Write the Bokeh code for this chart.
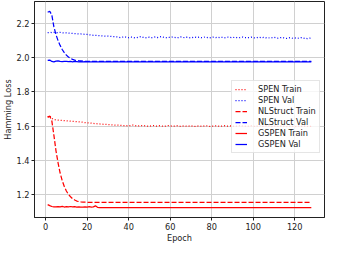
from bokeh.plotting import figure
from bokeh.models import Range1d, Legend, LegendItem, PrintfTickFormatter
from bokeh.embed import file_html
from bokeh.resources import INLINE

epochs = list(range(1, 129))

spen_train = [
    1.652, 1.660, 1.645, 1.638, 1.636, 1.635, 1.634, 1.633, 1.632, 1.631, 1.630, 1.629, 1.628, 1.627, 1.626, 1.625,
    1.623, 1.622, 1.620, 1.619, 1.618, 1.617, 1.615, 1.614, 1.613, 1.612, 1.611, 1.610, 1.610, 1.609, 1.608, 1.607,
    1.606, 1.605, 1.605, 1.604, 1.603, 1.603, 1.602, 1.601, 1.603, 1.606, 1.603, 1.600, 1.601, 1.603, 1.601, 1.602,
    1.600, 1.599, 1.601, 1.603, 1.600, 1.599, 1.602, 1.600, 1.598, 1.600, 1.603, 1.601, 1.599, 1.600, 1.602, 1.600,
    1.598, 1.600, 1.601, 1.599, 1.600, 1.602, 1.599, 1.598, 1.600, 1.601, 1.599, 1.600, 1.603, 1.600, 1.598, 1.600,
    1.599, 1.601, 1.600, 1.598, 1.600, 1.602, 1.599, 1.600, 1.601, 1.598, 1.600, 1.599, 1.601, 1.603, 1.600, 1.599,
    1.598, 1.600, 1.601, 1.599, 1.597, 1.600, 1.602, 1.599, 1.598, 1.600, 1.601, 1.599, 1.597, 1.599, 1.600, 1.598,
    1.600, 1.601, 1.599, 1.597, 1.598, 1.600, 1.599, 1.597, 1.598, 1.600, 1.598, 1.597, 1.599, 1.598, 1.597, 1.598,
]

spen_val = [
    2.147, 2.148, 2.147, 2.148, 2.146, 2.147, 2.148, 2.146, 2.145, 2.146, 2.144, 2.143, 2.142, 2.141, 2.140, 2.139,
    2.139, 2.138, 2.137, 2.136, 2.134, 2.133, 2.131, 2.130, 2.130, 2.129, 2.128, 2.127, 2.126, 2.127, 2.125, 2.124,
    2.123, 2.122, 2.121, 2.118, 2.120, 2.123, 2.119, 2.117, 2.121, 2.119, 2.116, 2.118, 2.121, 2.124, 2.119, 2.116,
    2.118, 2.120, 2.117, 2.119, 2.122, 2.118, 2.121, 2.124, 2.119, 2.117, 2.120, 2.118, 2.121, 2.119, 2.116, 2.118,
    2.122, 2.119, 2.117, 2.120, 2.118, 2.116, 2.119, 2.121, 2.118, 2.120, 2.117, 2.119, 2.122, 2.118, 2.116, 2.119,
    2.121, 2.118, 2.120, 2.117, 2.119, 2.116, 2.118, 2.121, 2.119, 2.117, 2.120, 2.118, 2.116, 2.119, 2.121, 2.118,
    2.116, 2.118, 2.120, 2.117, 2.115, 2.118, 2.120, 2.117, 2.119, 2.116, 2.118, 2.115, 2.117, 2.120, 2.116, 2.114,
    2.117, 2.119, 2.115, 2.113, 2.116, 2.118, 2.114, 2.116, 2.113, 2.115, 2.117, 2.113, 2.115, 2.112, 2.114, 2.116,
]

nlstruct_train = [
    1.652, 1.658, 1.630, 1.545, 1.455, 1.385, 1.325, 1.280, 1.246, 1.220, 1.200, 1.186, 1.175, 1.167, 1.161, 1.158,
    1.156, 1.155, 1.154, 1.154, 1.153, 1.153, 1.153, 1.153, 1.153, 1.153, 1.153, 1.153, 1.153, 1.153, 1.153, 1.153,
    1.153, 1.153, 1.153, 1.153, 1.153, 1.153, 1.153, 1.153, 1.153, 1.153, 1.153, 1.153, 1.153, 1.153, 1.153, 1.153,
    1.153, 1.153, 1.153, 1.153, 1.153, 1.153, 1.153, 1.153, 1.153, 1.153, 1.153, 1.153, 1.153, 1.153, 1.153, 1.153,
    1.153, 1.153, 1.153, 1.153, 1.153, 1.153, 1.153, 1.153, 1.153, 1.153, 1.153, 1.153, 1.153, 1.153, 1.153, 1.153,
    1.153, 1.153, 1.153, 1.153, 1.153, 1.153, 1.153, 1.153, 1.153, 1.153, 1.153, 1.153, 1.153, 1.153, 1.153, 1.153,
    1.153, 1.153, 1.153, 1.153, 1.153, 1.153, 1.153, 1.153, 1.153, 1.153, 1.153, 1.153, 1.153, 1.153, 1.153, 1.153,
    1.153, 1.153, 1.153, 1.153, 1.153, 1.153, 1.153, 1.153, 1.153, 1.153, 1.153, 1.153, 1.153, 1.153, 1.153, 1.153,
]

nlstruct_val = [
    2.266, 2.272, 2.250, 2.180, 2.135, 2.100, 2.072, 2.048, 2.030, 2.015, 2.004, 1.996, 1.990, 1.986, 1.984, 1.982,
    1.981, 1.980, 1.979, 1.979, 1.979, 1.979, 1.979, 1.979, 1.979, 1.979, 1.979, 1.979, 1.979, 1.979, 1.979, 1.979,
    1.979, 1.979, 1.979, 1.979, 1.979, 1.979, 1.979, 1.979, 1.979, 1.979, 1.979, 1.979, 1.979, 1.979, 1.979, 1.979,
    1.979, 1.979, 1.979, 1.979, 1.979, 1.979, 1.979, 1.979, 1.979, 1.979, 1.979, 1.979, 1.979, 1.979, 1.979, 1.979,
    1.979, 1.979, 1.979, 1.979, 1.979, 1.979, 1.979, 1.979, 1.979, 1.979, 1.979, 1.979, 1.979, 1.979, 1.979, 1.979,
    1.979, 1.979, 1.979, 1.979, 1.979, 1.979, 1.979, 1.979, 1.979, 1.979, 1.979, 1.979, 1.979, 1.979, 1.979, 1.979,
    1.979, 1.979, 1.979, 1.979, 1.979, 1.979, 1.979, 1.979, 1.979, 1.979, 1.979, 1.979, 1.979, 1.979, 1.979, 1.979,
    1.979, 1.979, 1.979, 1.979, 1.979, 1.979, 1.979, 1.979, 1.979, 1.979, 1.979, 1.979, 1.979, 1.979, 1.979, 1.979,
]

gspen_train = [
    1.140, 1.134, 1.129, 1.127, 1.127, 1.128, 1.127, 1.130, 1.126, 1.128, 1.127, 1.129, 1.127, 1.128, 1.126, 1.127,
    1.126, 1.125, 1.127, 1.126, 1.128, 1.126, 1.127, 1.133, 1.124, 1.122, 1.122, 1.122, 1.122, 1.122, 1.122, 1.122,
    1.122, 1.122, 1.122, 1.122, 1.122, 1.122, 1.122, 1.122, 1.122, 1.122, 1.122, 1.122, 1.122, 1.122, 1.122, 1.122,
    1.122, 1.122, 1.122, 1.122, 1.122, 1.122, 1.122, 1.122, 1.122, 1.122, 1.122, 1.122, 1.122, 1.122, 1.122, 1.122,
    1.122, 1.122, 1.122, 1.122, 1.122, 1.122, 1.122, 1.122, 1.122, 1.122, 1.122, 1.122, 1.122, 1.122, 1.122, 1.122,
    1.122, 1.122, 1.122, 1.122, 1.122, 1.122, 1.122, 1.122, 1.122, 1.122, 1.122, 1.122, 1.122, 1.122, 1.122, 1.122,
    1.122, 1.122, 1.122, 1.122, 1.122, 1.122, 1.122, 1.122, 1.122, 1.122, 1.122, 1.122, 1.122, 1.122, 1.122, 1.122,
    1.122, 1.122, 1.122, 1.122, 1.122, 1.122, 1.122, 1.122, 1.122, 1.122, 1.122, 1.122, 1.122, 1.122, 1.122, 1.122,
]

gspen_val = [
    1.984, 1.986, 1.978, 1.976, 1.980, 1.982, 1.979, 1.977, 1.979, 1.978, 1.977, 1.978, 1.976, 1.978, 1.977, 1.976,
    1.977, 1.976, 1.977, 1.976, 1.976, 1.975, 1.976, 1.975, 1.975, 1.975, 1.975, 1.975, 1.975, 1.975, 1.975, 1.975,
    1.975, 1.975, 1.975, 1.975, 1.975, 1.975, 1.975, 1.975, 1.975, 1.975, 1.975, 1.975, 1.975, 1.975, 1.975, 1.975,
    1.975, 1.975, 1.975, 1.975, 1.975, 1.975, 1.975, 1.975, 1.975, 1.975, 1.975, 1.975, 1.975, 1.975, 1.975, 1.975,
    1.975, 1.975, 1.975, 1.975, 1.975, 1.975, 1.975, 1.975, 1.975, 1.975, 1.975, 1.975, 1.975, 1.975, 1.975, 1.975,
    1.975, 1.975, 1.975, 1.975, 1.975, 1.975, 1.975, 1.975, 1.975, 1.975, 1.975, 1.975, 1.975, 1.975, 1.975, 1.975,
    1.975, 1.975, 1.975, 1.975, 1.975, 1.975, 1.975, 1.975, 1.975, 1.975, 1.975, 1.975, 1.975, 1.975, 1.975, 1.975,
    1.975, 1.975, 1.975, 1.975, 1.975, 1.975, 1.975, 1.975, 1.975, 1.975, 1.975, 1.975, 1.975, 1.975, 1.975, 1.975,
]

x_ticks = [0, 20, 40, 60, 80, 100, 120]
y_ticks = [1.2, 1.4, 1.6, 1.8, 2.0, 2.2]

FONT = "DejaVu Sans"
FS = "8.2px"

p = figure(
    frame_width=290, frame_height=216,
    min_border_left=30, min_border_right=1, min_border_top=1, min_border_bottom=25,
    x_range=Range1d(-5.35, 134.35), y_range=Range1d(1.0646, 2.329),
    output_backend="svg", toolbar_location=None,
)
p.background_fill_color = "white"
p.border_fill_color = "white"
p.outline_line_color = "#222222"
p.outline_line_width = 1

p.xaxis.ticker = x_ticks
p.yaxis.ticker = y_ticks
p.yaxis.formatter = PrintfTickFormatter(format="%.1f")
p.xaxis.axis_label = "Epoch"
p.yaxis.axis_label = "Hamming Loss"
for ax in (p.xaxis[0], p.yaxis[0]):
    ax.axis_line_color = "#222222"
    ax.major_tick_line_color = "#222222"
    ax.major_tick_in = 0
    ax.major_tick_out = 3
    ax.minor_tick_line_color = None
    ax.major_label_text_font = FONT
    ax.major_label_text_font_size = FS
    ax.major_label_text_color = "#222222"
    ax.axis_label_text_font = FONT
    ax.axis_label_text_font_size = FS
    ax.axis_label_text_font_style = "normal"
    ax.axis_label_text_color = "#222222"
    ax.major_label_standoff = 2
    ax.axis_label_standoff = 0

p.xgrid.grid_line_color = "#d0d0d0"
p.ygrid.grid_line_color = "#d0d0d0"
p.xgrid.grid_line_width = 1
p.ygrid.grid_line_width = 1

LW = 1.25
r1 = p.line(epochs, spen_train, line_color="#ff0000", line_width=LW, line_dash="1 2")
r2 = p.line(epochs, spen_val, line_color="#0000ff", line_width=LW, line_dash="1 2")
r3 = p.line(epochs, nlstruct_train, line_color="#ff0000", line_width=LW, line_dash="5 2")
r4 = p.line(epochs, nlstruct_val, line_color="#0000ff", line_width=LW, line_dash="5 2")
r5 = p.line(epochs, gspen_train, line_color="#ff0000", line_width=LW)
r6 = p.line(epochs, gspen_val, line_color="#0000ff", line_width=LW)

legend = Legend(
    items=[
        LegendItem(label="SPEN Train", renderers=[r1]),
        LegendItem(label="SPEN Val", renderers=[r2]),
        LegendItem(label="NLStruct Train", renderers=[r3]),
        LegendItem(label="NLStruct Val", renderers=[r4]),
        LegendItem(label="GSPEN Train", renderers=[r5]),
        LegendItem(label="GSPEN Val", renderers=[r6]),
    ],
    location=(197, 64),
    label_text_font=FONT,
    label_text_font_size=FS,
    label_text_color="#222222",
    glyph_width=12, glyph_height=10, label_height=10,
    label_standoff=11, spacing=1, padding=3, margin=0,
    border_line_color="#cccccc", border_line_width=1,
    background_fill_color="white", background_fill_alpha=0.8,
)
p.add_layout(legend)

open("out.html", "w").write(file_html(p, INLINE))
